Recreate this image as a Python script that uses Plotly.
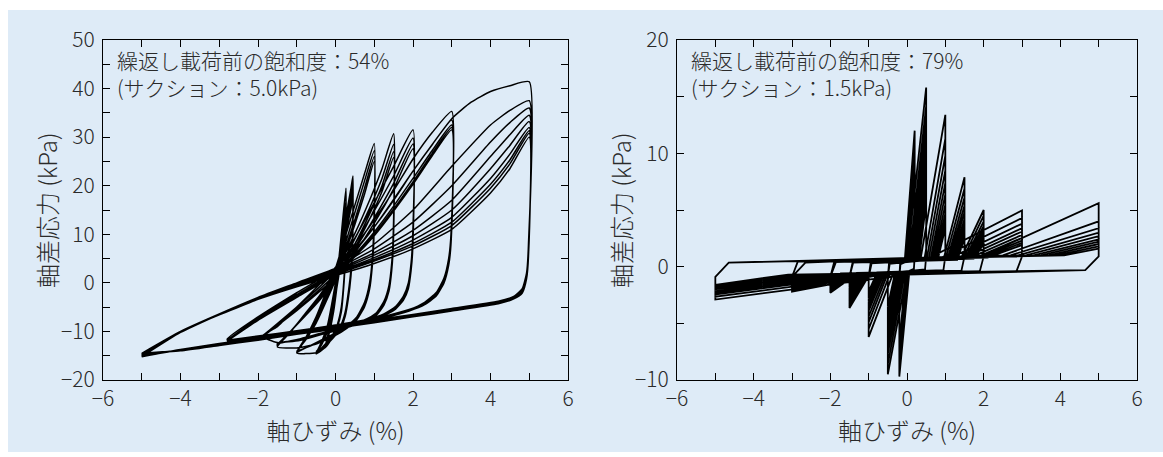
import plotly.graph_objects as go

# ================= Left panel: Sr = 54 % (suction 5.0 kPa) =================
# Each stage: loading branch x (shared), loading y per cycle,
# unloading branch x (shared, after the peak), unloading y per cycle.
L1_LOAD_X = [-0.25, -0.15, -0.05, 0.05, 0.15, 0.27]
L1_LOAD_Y = [[-12.5, -9.0, -4.0, 2.0, 10.0, 19.5],
             [-12.8, -9.5, -5.0, 1.0, 8.5, 17.0],
             [-13.0, -10.0, -6.0, 0.0, 7.0, 15.0]]
L1_UNLOAD_X = [0.26, 0.22, 0.15, 0.05, -0.08, -0.25]
L1_UNLOAD_Y = [[8.0, 1.0, -5.0, -8.5, -10.8, -12.8],
               [7.0, 0.5, -5.5, -8.8, -11.0, -13.0],
               [6.0, 0.0, -6.0, -9.0, -11.2, -13.2]]

L2_LOAD_X = [-0.5, -0.35, -0.2, -0.1, 0.0, 0.1, 0.2, 0.3, 0.4, 0.45]
L2_LOAD_Y = [[-14.6, -12.0, -8.5, -4.5, 0.0, 5.0, 10.0, 15.0, 19.5, 22.0],
             [-14.6, -12.6, -9.0, -5.0, -1.0, 4.0, 9.0, 13.5, 18.0, 20.5],
             [-14.4, -12.6, -9.5, -5.8, -2.0, 3.0, 8.0, 12.5, 16.5, 19.0],
             [-14.2, -12.6, -9.8, -6.3, -2.7, 2.2, 7.0, 11.5, 15.3, 17.5]]
L2_UNLOAD_X = [0.44, 0.4, 0.33, 0.25, 0.15, 0.0, -0.15, -0.3, -0.5]
L2_UNLOAD_Y = [[10.0, 3.0, -2.0, -6.0, -8.5, -10.2, -11.6, -12.9, -14.6],
               [9.0, 2.5, -2.5, -6.3, -8.7, -10.4, -11.8, -13.0, -14.4],
               [8.0, 2.0, -3.0, -6.6, -8.9, -10.6, -12.0, -13.1, -14.2],
               [7.0, 1.5, -3.3, -6.9, -9.1, -10.8, -12.1, -13.2, -14.4]]

L3_LOAD_X = [-1.0, -0.75, -0.5, -0.25, 0.0, 0.25, 0.5, 0.75, 1.0]
L3_LOAD_Y = [[-14.4, -11.0, -7.0, -2.0, 3.0, 9.5, 16.0, 22.5, 28.7],
             [-14.3, -11.2, -7.5, -2.8, 2.0, 8.0, 14.5, 21.0, 27.2],
             [-14.2, -11.4, -8.0, -3.5, 1.2, 7.0, 13.0, 19.5, 26.0],
             [-14.1, -11.5, -8.3, -4.0, 0.6, 6.2, 12.0, 18.3, 25.0]]
L3_UNLOAD_X = [0.99, 0.95, 0.88, 0.75, 0.55, 0.3, 0.0, -0.5, -1.0]
L3_UNLOAD_Y = [[12.0, 5.0, 0.0, -4.0, -7.0, -8.8, -10.3, -12.3, -14.3],
               [11.0, 4.5, -0.5, -4.3, -7.2, -9.0, -10.5, -12.4, -14.2],
               [10.0, 4.0, -1.0, -4.6, -7.4, -9.2, -10.7, -12.5, -14.1],
               [9.0, 3.5, -1.3, -4.9, -7.6, -9.3, -10.8, -12.6, -13.4]]

L4_LOAD_X = [-1.5, -1.2, -0.8, -0.4, 0.0, 0.4, 0.8, 1.2, 1.5]
L4_LOAD_Y = [[-13.2, -10.5, -6.5, -2.5, 2.5, 8.5, 15.5, 23.5, 30.7],
             [-13.0, -10.4, -6.6, -2.8, 1.8, 7.5, 14.0, 21.5, 28.5],
             [-12.8, -10.3, -6.8, -3.2, 1.2, 6.5, 12.8, 20.0, 27.0],
             [-12.6, -10.3, -7.0, -3.5, 0.7, 5.8, 11.8, 18.8, 25.8]]
L4_UNLOAD_X = [1.49, 1.45, 1.38, 1.25, 1.05, 0.7, 0.3, -0.3, -0.9, -1.5]
L4_UNLOAD_Y = [[10.0, 4.0, -0.5, -3.8, -6.2, -7.8, -8.9, -10.2, -11.5, -12.6],
               [9.0, 3.5, -1.0, -4.1, -6.4, -7.9, -9.0, -10.3, -11.6, -12.5],
               [8.0, 3.0, -1.4, -4.4, -6.6, -8.0, -9.1, -10.4, -11.7, -12.4],
               [7.5, 2.5, -1.7, -4.6, -6.7, -8.1, -9.2, -10.5, -11.8, -12.3]]

L5_LOAD_X = [-1.9, -1.5, -1.0, -0.5, 0.0, 0.5, 1.0, 1.5, 2.0]
L5_LOAD_Y = [[-11.0, -9.0, -5.0, -1.0, 3.2, 9.2, 16.5, 24.0, 31.5],
             [-11.0, -8.4, -5.0, -1.5, 2.5, 8.0, 14.8, 22.0, 29.8],
             [-11.1, -8.6, -5.4, -2.0, 1.8, 7.0, 13.4, 20.5, 28.6],
             [-11.2, -8.8, -5.7, -2.4, 1.2, 6.2, 12.3, 19.3, 27.6]]
L5_UNLOAD_X = [1.99, 1.95, 1.88, 1.75, 1.55, 1.25, 0.8, 0.0, -1.0, -1.9]
L5_UNLOAD_Y = [[9.0, 4.0, 0.0, -2.8, -4.9, -6.4, -7.6, -9.1, -10.3, -11.0],
               [8.0, 3.5, -0.5, -3.1, -5.1, -6.5, -7.7, -9.2, -10.4, -11.1],
               [7.0, 3.0, -0.9, -3.4, -5.3, -6.6, -7.8, -9.3, -10.5, -11.2],
               [6.5, 2.5, -1.2, -3.6, -5.4, -6.7, -7.9, -9.4, -10.6, -11.3]]

L6_LOAD_X = [-2.8, -2.0, -1.0, 0.0, 0.5, 1.0, 1.5, 2.0, 2.5, 3.0]
L6_LOAD_Y = [[-11.6, -7.0, -2.0, 2.8, 7.5, 13.0, 19.0, 25.5, 31.0, 35.3],
             [-11.8, -7.3, -2.4, 2.4, 6.5, 11.5, 17.0, 23.0, 28.5, 33.5],
             [-11.9, -7.5, -2.7, 2.1, 5.9, 10.5, 15.8, 21.5, 27.3, 32.5],
             [-11.9, -7.6, -2.9, 1.9, 5.6, 10.0, 15.2, 20.8, 26.7, 32.0],
             [-12.0, -7.7, -3.0, 1.8, 5.4, 9.7, 14.8, 20.3, 26.2, 31.5]]
L6_UNLOAD_X = [2.98, 2.92, 2.8, 2.6, 2.3, 1.9, 1.3, 0.5, -0.5, -1.5, -2.8]
L6_UNLOAD_Y = [[10.0, 5.0, 1.0, -2.0, -4.0, -5.5, -6.8, -8.0, -9.3, -10.4, -11.8],
               [9.0, 4.5, 0.6, -2.3, -4.2, -5.6, -6.9, -8.1, -9.4, -10.5, -11.9],
               [8.5, 4.0, 0.3, -2.5, -4.4, -5.7, -7.0, -8.2, -9.5, -10.6, -11.9],
               [8.2, 3.8, 0.1, -2.6, -4.5, -5.8, -7.1, -8.3, -9.6, -10.7, -12.0],
               [8.0, 3.6, 0.0, -2.7, -4.5, -5.8, -7.1, -8.3, -9.6, -10.7, -12.0]]

L7_FIRST_LOAD_X = [-2.8, -2.0, -1.0, 0.0, 1.0, 2.0, 3.0, 3.5, 4.0, 4.5, 5.0]
L7_FIRST_LOAD_Y = [-12.0, -7.5, -2.6, 2.4, 11.5, 23.0, 33.8, 37.2, 39.4, 40.6, 41.4]
L7_LOAD_X = [-5.0, -4.0, -3.0, -2.0, -1.0, 0.0, 1.0, 2.0, 3.0, 4.0, 4.5, 5.0]
L7_LOAD_Y = [[-15.2, -10.2, -6.5, -3.0, 0.0, 3.0, 8.0, 15.0, 24.0, 32.5, 35.5, 37.5],
             [-15.1, -10.2, -6.5, -3.0, -0.1, 2.8, 7.0, 12.5, 20.0, 29.0, 33.0, 36.0],
             [-15.0, -10.1, -6.4, -3.0, -0.2, 2.6, 6.2, 10.8, 17.0, 26.0, 30.5, 34.5],
             [-14.9, -10.05, -6.4, -3.05, -0.3, 2.4, 5.7, 9.7, 15.0, 23.5, 28.3, 33.2],
             [-14.8, -10.0, -6.4, -3.1, -0.4, 2.2, 5.2, 8.8, 13.5, 21.5, 26.5, 32.0],
             [-14.7, -10.0, -6.45, -3.2, -0.5, 2.0, 4.8, 8.1, 12.5, 20.3, 25.3, 31.3],
             [-14.6, -10.0, -6.5, -3.3, -0.6, 1.8, 4.5, 7.6, 11.8, 19.5, 24.5, 30.8],
             [-14.5, -10.0, -6.6, -3.4, -0.8, 1.5, 4.0, 7.0, 11.0, 18.5, 23.5, 30.0]]
L7_UNLOAD_X = [4.98, 4.93, 4.82, 4.6, 4.2, 3.0, 2.0, 1.0, 0.0, -1.0, -2.0, -3.0, -4.0, -5.0]
L7_UNLOAD_Y = [[8.0, 2.0, -1.2, -2.8, -3.8, -5.3, -6.5, -7.7, -8.9, -10.1, -11.3, -12.5, -13.7, -15.2],
               [7.5, 1.7, -1.4, -2.9, -3.9, -5.4, -6.6, -7.8, -9.0, -10.2, -11.4, -12.6, -13.8, -15.1],
               [7.2, 1.6, -1.5, -2.95, -3.95, -5.45, -6.65, -7.85, -9.05, -10.25, -11.45, -12.65, -13.8, -15.0],
               [7.0, 1.5, -1.6, -3.0, -4.0, -5.5, -6.7, -7.9, -9.1, -10.3, -11.5, -12.7, -13.8, -14.9],
               [6.8, 1.4, -1.7, -3.05, -4.05, -5.55, -6.75, -7.95, -9.15, -10.35, -11.55, -12.75, -13.85, -14.8],
               [6.5, 1.2, -1.8, -3.1, -4.1, -5.6, -6.8, -8.0, -9.2, -10.4, -11.6, -12.8, -13.9, -14.7],
               [6.0, 1.0, -2.0, -3.2, -4.2, -5.7, -6.9, -8.1, -9.3, -10.5, -11.7, -12.8, -13.9, -14.6],
               [5.8, 0.9, -2.05, -3.25, -4.25, -5.75, -6.95, -8.15, -9.35, -10.55, -11.75, -12.85, -13.95, -14.5],
               [5.5, 0.8, -2.1, -3.3, -4.3, -5.8, -7.0, -8.2, -9.4, -10.6, -11.8, -12.9, -14.0, -14.5]]

# ================= Right panel: Sr = 79 % (suction 1.5 kPa) =================
# Per stage: strain amplitude, per-cycle peak / trough stress, strain where
# the steep rise (loading) or steep fall (unloading) begins.
R_AMP = [0.2, 0.5, 1.0, 1.5, 2.0, 3.0, 5.0]
R_CORNER = [0.02, 0.03, 0.05, 0.08, 0.1, 0.15, 0.35]
R_BAND_UP = [0.5, 0.5, 0.6, 0.6, 0.7, 0.8, 1.0]
R_BAND_LO = [-0.5, -0.5, -0.5, -0.55, -0.6, -0.65, -0.7]
R_EDGE_UP = [0.2, 0.25, 0.3, 0.35, 0.4, 0.45, 0.35]
R_EDGE_LO = [-0.2, -0.25, -0.3, -0.35, -0.4, -0.45, -0.3]
R_RELAX_HI = 0.9
R_RELAX_LO = -0.9

R_PEAK = [
    [12.0, 10.5, 9.0, 7.8],
    [15.8, 14.2, 12.8, 11.5, 10.2, 9.0, 7.8, 6.7, 5.6],
    [13.4, 11.3, 9.8, 8.5, 7.4, 6.4, 5.5, 4.7, 4.0, 3.4],
    [7.9, 6.9, 6.1, 5.4, 4.8, 4.2, 3.7, 3.3, 2.9, 2.5],
    [5.0, 4.5, 4.0, 3.6, 3.3, 3.0, 2.7, 2.45, 2.2, 2.0],
    [4.96, 4.3, 3.8, 3.4, 3.1, 2.8, 2.55, 2.3, 2.1, 1.9],
    [5.6, 4.0, 3.4, 3.0, 2.7, 2.4, 2.2, 2.0, 1.8, 1.6],
]
R_RISE = [
    [-0.06, -0.03, 0.0, 0.03],
    [0.0, 0.05, 0.09, 0.13, 0.17, 0.21, 0.25, 0.28, 0.31],
    [0.35, 0.45, 0.51, 0.56, 0.61, 0.65, 0.69, 0.73, 0.77, 0.8],
    [0.95, 1.0, 1.05, 1.09, 1.13, 1.17, 1.21, 1.25, 1.28, 1.31],
    [1.4, 1.46, 1.51, 1.55, 1.59, 1.62, 1.65, 1.68, 1.71, 1.74],
    [0.6, 0.9, 1.15, 1.35, 1.5, 1.65, 1.8, 1.9, 2.0, 2.1],
    [2.0, 2.5, 2.7, 2.9, 3.1, 3.3, 3.5, 3.7, 3.9, 4.1],
]
R_TROUGH = [
    [-9.7, -8.6, -7.6, -6.8],
    [-9.5, -8.6, -7.7, -6.9, -6.1, -5.4, -4.7, -4.1, -3.5],
    [-6.2, -5.5, -4.9, -4.4, -3.9, -3.5, -3.1, -2.8, -2.5, -2.2],
    [-3.65, -3.35, -3.1, -2.85, -2.65, -2.45, -2.25, -2.1, -1.95, -1.8],
    [-2.3, -2.15, -2.0, -1.9, -1.8, -1.7, -1.6, -1.52, -1.45, -1.38],
    [-2.2, -2.05, -1.9, -1.8, -1.7, -1.6, -1.5, -1.42, -1.35, -1.28],
    [-2.9, -2.65, -2.45, -2.3, -2.15, -2.0, -1.9, -1.8, -1.7, -1.6],
]
R_FALL = [
    [0.06, 0.03, 0.0, -0.03],
    [0.0, -0.05, -0.09, -0.13, -0.17, -0.21, -0.25, -0.28, -0.31],
    [-0.35, -0.43, -0.49, -0.54, -0.59, -0.63, -0.67, -0.71, -0.75, -0.78],
    [-0.95, -1.0, -1.05, -1.09, -1.13, -1.17, -1.21, -1.25, -1.28, -1.31],
    [-1.3, -1.38, -1.44, -1.5, -1.55, -1.59, -1.63, -1.67, -1.7, -1.73],
    [-0.6, -0.9, -1.15, -1.35, -1.5, -1.65, -1.8, -1.9, -2.0, -2.1],
    [0.0, -0.6, -1.0, -1.3, -1.6, -1.9, -2.2, -2.5, -2.8, -3.1],
]

# ---------------- texts ----------------
X_TITLE = "軸ひずみ (%)"
Y_TITLE = "軸差応力 (kPa)"
LEFT_NOTE = ["繰返し載荷前の飽和度：54%", "(サクション：5.0kPa)"]
RIGHT_NOTE = ["繰返し載荷前の飽和度：79%", "(サクション：1.5kPa)"]

# ---------------- build left path ----------------
left_stages = [
    ([L1_LOAD_X] * len(L1_LOAD_Y), L1_LOAD_Y, L1_UNLOAD_X, L1_UNLOAD_Y),
    ([L2_LOAD_X] * len(L2_LOAD_Y), L2_LOAD_Y, L2_UNLOAD_X, L2_UNLOAD_Y),
    ([L3_LOAD_X] * len(L3_LOAD_Y), L3_LOAD_Y, L3_UNLOAD_X, L3_UNLOAD_Y),
    ([L4_LOAD_X] * len(L4_LOAD_Y), L4_LOAD_Y, L4_UNLOAD_X, L4_UNLOAD_Y),
    ([L5_LOAD_X] * len(L5_LOAD_Y), L5_LOAD_Y, L5_UNLOAD_X, L5_UNLOAD_Y),
    ([L6_LOAD_X] * len(L6_LOAD_Y), L6_LOAD_Y, L6_UNLOAD_X, L6_UNLOAD_Y),
    ([L7_FIRST_LOAD_X] + [L7_LOAD_X] * len(L7_LOAD_Y), [L7_FIRST_LOAD_Y] + L7_LOAD_Y,
     L7_UNLOAD_X, L7_UNLOAD_Y),
]
lx, ly = [], []
for load_xs, load_ys, ux, uys in left_stages:
    for cx, cy, uy in zip(load_xs, load_ys, uys):
        lx += list(cx); ly += list(cy)
        lx += list(ux); ly += list(uy)

# ---------------- build right path ----------------
rx, ry = [], []
for s, A in enumerate(R_AMP):
    c = R_CORNER[s]
    for pk, rs, tr, fl in zip(R_PEAK[s], R_RISE[s], R_TROUGH[s], R_FALL[s]):
        cur = rx[-1] if rx else -A
        rx += [cur, cur + c, rs, A, A, A - c, fl, -A]
        ry += [R_RELAX_LO, R_EDGE_UP[s], R_BAND_UP[s], pk, R_RELAX_HI, R_EDGE_LO[s], R_BAND_LO[s], tr]

fig = go.Figure()
fig.add_trace(go.Scatter(x=lx, y=ly, mode="lines", xaxis="x", yaxis="y",
                         line=dict(color="black", width=1.5, shape="spline", smoothing=0.5),
                         showlegend=False, hoverinfo="skip"))
fig.add_trace(go.Scatter(x=rx, y=ry, mode="lines", xaxis="x2", yaxis="y2",
                         line=dict(color="black", width=1.8),
                         showlegend=False, hoverinfo="skip"))

W, H = 1163, 457
FONT = "Noto Sans CJK JP, Noto Sans, sans-serif"
TXT = "#2a2a2a"

def axis_common(**kw):
    d = dict(showline=True, linecolor="black", linewidth=1, mirror="allticks",
             ticks="inside", ticklen=7, tickwidth=1, tickcolor="black",
             showgrid=False, zeroline=False, automargin=False,
             tickfont=dict(family=FONT, size=21, color=TXT, weight=300),
             minor=dict(ticks="inside", ticklen=7, tickwidth=1, tickcolor="black", showgrid=False))
    d.update(kw)
    return d

xd1 = [103 / W, 568 / W]
xd2 = [677 / W, 1137 / W]
yd = [(H - 380) / H, (H - 40) / H]
TITLE_FONT = dict(family=FONT, size=24, color=TXT, weight=300)

fig.update_layout(
    template="none",
    width=W, height=H,
    margin=dict(l=0, r=0, t=0, b=0, pad=0),
    paper_bgcolor="white", plot_bgcolor="white",
    font=dict(family=FONT, color=TXT),
    xaxis=axis_common(domain=xd1, range=[-6, 6], dtick=2, tick0=0,
                      minor_dtick=1, anchor="y",
                      title=dict(text=X_TITLE, font=TITLE_FONT, standoff=10)),
    yaxis=axis_common(domain=yd, range=[-20, 50], dtick=10, tick0=0,
                      minor_dtick=5, anchor="x", ticklabelstandoff=3),
    xaxis2=axis_common(domain=xd2, range=[-6, 6], dtick=2, tick0=0,
                       minor_dtick=1, anchor="y2",
                       title=dict(text=X_TITLE, font=TITLE_FONT, standoff=10)),
    yaxis2=axis_common(domain=yd, range=[-10, 20], dtick=10, tick0=0,
                       minor_dtick=5, anchor="x2", ticklabelstandoff=3),
)

# light-blue panel behind both charts
fig.add_shape(type="rect", xref="paper", yref="paper", layer="below",
              x0=8 / W, x1=1.0, y0=5 / H, y1=(H - 10) / H,
              fillcolor="#deebf7", line=dict(width=0))

# y-axis titles (rotated), placed close to the tick labels as in the original
for xc in (47, 621):
    fig.add_annotation(text=Y_TITLE, xref="paper", yref="paper",
                       x=xc / W, y=(H - 210) / H, textangle=-90,
                       xanchor="center", yanchor="middle", showarrow=False,
                       font=TITLE_FONT)

for note, x0 in ((LEFT_NOTE, 115), (RIGHT_NOTE, 689)):
    fig.add_annotation(text="<br>".join(note), xref="paper", yref="paper",
                       x=x0 / W, y=(H - 43) / H, align="left",
                       xanchor="left", yanchor="top", showarrow=False,
                       font=dict(family=FONT, size=21, color=TXT, weight=300))

fig.write_html("out.html", config={"displayModeBar": False},
               post_script="document.body.style.margin='0';")
